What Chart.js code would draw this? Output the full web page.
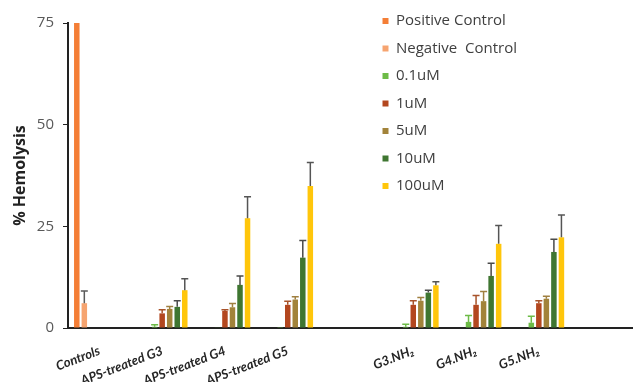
<!DOCTYPE html>
<html>
<head>
<meta charset="utf-8">
<script src="https://cdn.jsdelivr.net/npm/chart.js@4/dist/chart.umd.min.js"></script>
<style>
html,body{margin:0;padding:0;background:#fff;}
#wrap{width:633px;height:382px;}
</style>
</head>
<body>
<div id="wrap"><canvas id="hemoChart"></canvas></div>
<script>
const groups = ["Controls","APS-treated G3","APS-treated G4","APS-treated G5","","G3.NH\u2082","G4.NH\u2082","G5.NH\u2082",""];
const yTicks = [0,25,50,75];

const posCtrl  = [75,null,null,null,null,null,null,null,null];
const negCtrl  = [6.1,null,null,null,null,null,null,null,null];
const c01      = [null,0.3,0.1,0.2,null,0.3,1.5,1.3,null];
const c1       = [null,3.6,4.2,5.7,null,5.7,5.7,6.1,null];
const c5       = [null,4.7,5.1,7.0,null,6.7,6.6,7.2,null];
const c10      = [null,5.2,10.6,17.3,null,8.7,12.8,18.7,null];
const c100     = [null,9.3,27.0,34.9,null,10.5,20.7,22.3,null];

const negErr   = [3.0,0,0,0,0,0,0,0,0];
const c01Err   = [0,0.5,0,0,0,0.6,1.6,1.6,0];
const c1Err    = [0,0.9,0.3,0.9,0,1.0,2.3,0.6,0];
const c5Err    = [0,0.6,0.9,0.7,0,0.8,2.4,0.6,0];
const c10Err   = [0,1.5,2.2,4.2,0,0.6,3.1,3.1,0];
const c100Err  = [0,2.8,5.3,5.8,0,0.9,4.5,5.5,0];

// error whiskers on top of each bar, placed with the y scale
const errorBars = {
    id:"errorBars",
    afterDatasetsDraw(chart){
        const ctx = chart.ctx, y = chart.scales.y;
        chart.data.datasets.forEach((ds,i)=>{
            if(!ds.err) return;
            const meta = chart.getDatasetMeta(i);
            meta.data.forEach((bar,j)=>{
                const v = ds.data[j], e = ds.err[j];
                if(v==null || !e) return;
                const top = y.getPixelForValue(v+e), base = y.getPixelForValue(v);
                ctx.save();
                ctx.strokeStyle = ds.errColor;
                ctx.lineWidth = 1.5;
                ctx.beginPath();
                ctx.moveTo(bar.x,base);
                ctx.lineTo(bar.x,top);
                ctx.moveTo(bar.x-3.5,top);
                ctx.lineTo(bar.x+3.5,top);
                ctx.stroke();
                ctx.restore();
            });
        });
    }
};

const moveLegend = {
    id:"moveLegend",
    afterLayout(chart){
        chart.legend.left = 370;
        chart.legend.top = 1;
    }
};

new Chart(document.getElementById("hemoChart").getContext("2d"),{
    type:"bar",
    data:{
        labels:groups,
        datasets:[
            {label:"Positive Control",data:posCtrl,backgroundColor:"#F47E36"},
            {label:"Negative  Control",data:negCtrl,backgroundColor:"#F6A470",err:negErr,errColor:"#5a5a5a"},
            {label:"0.1uM",data:c01,backgroundColor:"#6DBB47",err:c01Err,errColor:"#6DBB47"},
            {label:"1uM",data:c1,backgroundColor:"#B3471F",err:c1Err,errColor:"#A8532a"},
            {label:"5uM",data:c5,backgroundColor:"#A2833A",err:c5Err,errColor:"#A08040"},
            {label:"10uM",data:c10,backgroundColor:"#3F7631",err:c10Err,errColor:"#4a4a4a"},
            {label:"100uM",data:c100,backgroundColor:"#FFC60B",err:c100Err,errColor:"#555555"}
        ]
    },
    options:{
        responsive:true,
        maintainAspectRatio:false,
        animation:false,
        layout:{padding:{top:23,right:0,bottom:0,left:0}},
        datasets:{bar:{categoryPercentage:0.84,barPercentage:0.73}},
        plugins:{
            tooltip:{enabled:false},
            legend:{
                position:"chartArea",
                align:"start",
                labels:{
                    boxWidth:6,boxHeight:6,padding:12.5,color:"#404040",
                    font:{family:"'Open Sans'",size:15}
                }
            }
        },
        scales:{
            x:{
                grid:{display:false},
                border:{display:true,color:"#222",width:2},
                ticks:{
                    autoSkip:false,maxRotation:21,minRotation:21,padding:7,color:"#262626",
                    font:{family:"Lato",size:13,style:"italic",weight:"bold"}
                },
                afterFit:(s)=>{s.height=54;}
            },
            y:{
                min:0,max:75,
                afterBuildTicks:(s)=>{s.ticks=yTicks.map(v=>({value:v}));},
                grid:{drawOnChartArea:false,drawTicks:true,tickLength:5,color:"#222"},
                border:{display:true,color:"#222",width:2},
                ticks:{padding:9,color:"#595959",font:{family:"'Open Sans'",size:15}},
                title:{display:true,text:"% Hemolysis",color:"#222",padding:{top:11,bottom:0},
                    font:{family:"'Open Sans'",size:16,weight:"bold"}},
                afterFit:(s)=>{s.width=68;}
            }
        }
    },
    plugins:[errorBars,moveLegend]
});
</script>
</body>
</html>
